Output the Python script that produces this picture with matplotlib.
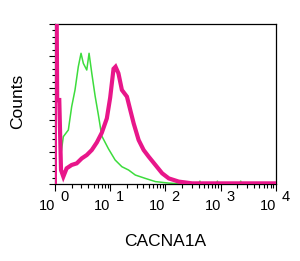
import matplotlib
matplotlib.use("Agg")
import matplotlib.pyplot as plt
import matplotlib.transforms as mtransforms
import numpy as np

plt.rcParams['font.family'] = ['Liberation Sans', 'DejaVu Sans']

# Isotype control (green)
green_x = [1.29, 1.42, 1.75, 2.01, 2.31, 2.65, 2.97, 3.27, 3.77, 4.15, 4.65, 5.34,
           6.13, 7.05, 9.31, 12.3, 16.3, 21.5, 28.5, 43.3, 65.8, 113, 203,
           400, 420, 440, 840, 870, 900, 2200, 2300, 2400, 10000]
green_y = [19.0, 29.6, 33.75, 48.3, 58.75, 73.3, 81.7, 75.4, 71.25, 81.7, 69.2, 55.0,
           43.0, 30.0, 22.0, 15.0, 10.8, 8.75, 5.6, 3.5, 1.5, 0.6, 0.0,
           0.0, 1.8, 0.0, 0.0, 1.8, 0.0, 0.0, 1.8, 0.0, 0.0]

# CACNA1A stained (magenta)
pink_x = [1.0, 1.0, 1.08, 1.1, 1.2, 1.29, 1.42, 1.63, 2.01, 2.48, 3.06, 3.77, 4.65,
          5.74, 7.05, 8.70, 10.0, 11.5, 12.5, 14.1, 16.3, 20.1, 23.1, 26.6, 32.7,
          40.3, 49.7, 65.8, 87.1, 115, 174, 305, 10000]
pink_y = [0, 99, 99, 52.5, 52.5, 8.75, 4.6, 9.8, 11.9, 12.9, 16.0, 18.1, 21.25,
          26.0, 32.0, 41.0, 54.0, 72.0, 73.3, 69.2, 58.75, 54.6, 46.25, 37.9, 27.5,
          21.25, 17.1, 11.9, 6.7, 3.5, 1.5, 0.4, 0.4]

decades = [0, 1, 2, 3, 4]
xlabel = "CACNA1A"
ylabel = "Counts"

fig = plt.figure(figsize=(3.0, 2.61), dpi=100)
ax = fig.add_axes([0.183, 0.295, 0.737, 0.613])

ax.plot(green_x, green_y, color='#3ddc3d', lw=1.1, zorder=2)
ax.plot(pink_x, pink_y, color='#e8168a', lw=3.0, zorder=3, solid_joinstyle='miter')

ax.set_xscale('log')
ax.set_xlim(1, 1e4)
ax.set_ylim(0, 100)

ax.set_yticks(np.arange(0, 101, 20))
ax.set_yticks(np.arange(0, 101, 4), minor=True)
ax.tick_params(axis='y', which='major', length=4, width=0.8, direction='out', labelleft=False)
ax.tick_params(axis='y', which='minor', length=2.5, width=0.8, direction='out')

ax.set_xticks([10.0 ** d for d in decades])
ax.xaxis.set_minor_locator(matplotlib.ticker.LogLocator(base=10, subs=np.arange(2, 10)))
ax.xaxis.set_minor_formatter(matplotlib.ticker.NullFormatter())
ax.tick_params(axis='x', which='major', length=5, width=0.8, direction='out', labelbottom=False)
ax.tick_params(axis='x', which='minor', length=3, width=0.8, direction='out')

for s in ax.spines.values():
    s.set_linewidth(0.9)

# custom decade labels: "10" with raised exponent
btrans = mtransforms.blended_transform_factory(ax.transData, fig.transFigure)
for d in decades:
    xv = 10.0 ** d
    t1 = btrans + mtransforms.ScaledTranslation(-8 / 100, 0, fig.dpi_scale_trans)
    ax.text(xv, 1 - 206 / 261, "10", transform=t1, ha='center', va='center', fontsize=10.5, clip_on=False)
    t2 = btrans + mtransforms.ScaledTranslation(10 / 100, 0, fig.dpi_scale_trans)
    ax.text(xv, 1 - 197 / 261, str(d), transform=t2, ha='center', va='center', fontsize=10.5, clip_on=False)

fig.text(0.5 * (0.183 + 0.92), 1 - 241 / 261, xlabel, ha='center', va='center', fontsize=12.5)
fig.text(0.06, 0.5 * (0.295 + 0.908) + 0.01, ylabel, ha='center', va='center', rotation=90, fontsize=12.5)

fig.savefig("out.png", dpi=100)
